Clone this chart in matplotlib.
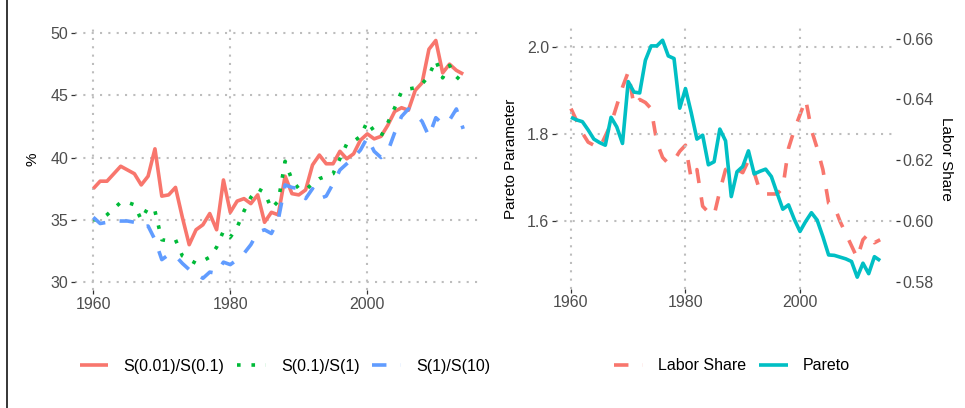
import numpy as np
import matplotlib
matplotlib.use("Agg")
import matplotlib.pyplot as plt
from matplotlib.lines import Line2D

plt.rcParams['font.family'] = ['Liberation Sans', 'DejaVu Sans']

years = list(range(1960, 2015))

# top income share ratios (%)
s001_s01 = [37.5, 38.1, 38.1, 38.7, 39.3, 39.0, 38.7, 37.8, 38.5, 40.7,
            36.9, 37.0, 37.6, 35.2, 33.0, 34.2, 34.6, 35.5, 34.2, 38.2,
            35.6, 36.5, 36.7, 36.3, 37.0, 34.8, 35.6, 35.4, 38.5, 37.1,
            37.0, 37.4, 39.4, 40.2, 39.5, 39.5, 40.5, 39.9, 40.3, 41.4,
            41.9, 41.5, 41.7, 42.6, 43.7, 44.0, 43.8, 45.4, 46.0, 48.7,
            49.4, 46.8, 47.5, 47.0, 46.7]
s01_s1 = [35.0, 35.0, 35.4, 35.9, 36.4, 36.4, 36.2, 35.0, 36.0, 35.7,
          33.4, 33.3, 33.4, 32.1, 31.8, 31.5, 31.7, 32.0, 32.8, 34.1,
          33.6, 34.4, 35.7, 36.8, 37.5, 37.2, 35.9, 36.5, 39.7, 38.2,
          37.5, 37.4, 37.9, 38.3, 38.5, 38.7, 39.9, 41.1, 41.3, 41.7,
          42.9, 42.1, 41.7, 42.8, 44.0, 45.3, 45.5, 45.6, 45.9, 46.6,
          47.8, 46.4, 47.4, 46.5, 46.0]
s1_s10 = [35.2, 34.7, 34.8, 34.9, 34.9, 34.9, 34.8, 34.4, 34.5, 33.4,
          31.8, 32.2, 32.1, 31.5, 31.0, 30.7, 30.3, 30.8, 30.7, 31.6,
          31.4, 31.8, 32.3, 33.0, 34.0, 34.2, 33.9, 35.0, 37.8, 37.6,
          37.5, 36.7, 37.5, 36.7, 36.9, 37.9, 39.0, 39.5, 40.0, 40.6,
          41.6, 40.5, 40.0, 40.5, 42.0, 43.3, 43.9, 43.5, 42.9, 41.7,
          43.2, 42.7, 43.0, 43.9, 42.3]

pareto = [1.839, 1.833, 1.829, 1.810, 1.789, 1.781, 1.775, 1.839, 1.817, 1.779,
          1.921, 1.897, 1.895, 1.970, 2.003, 2.003, 2.016, 1.980, 1.974, 1.860,
          1.905, 1.850, 1.789, 1.798, 1.730, 1.737, 1.812, 1.785, 1.657, 1.714,
          1.726, 1.762, 1.709, 1.715, 1.720, 1.703, 1.665, 1.628, 1.638, 1.605,
          1.577, 1.600, 1.620, 1.603, 1.565, 1.523, 1.522, 1.518, 1.514, 1.508,
          1.472, 1.504, 1.480, 1.519, 1.510]
labor_share = [0.637, 0.633, 0.629, 0.626, 0.625, 0.624, 0.628, 0.632, 0.638, 0.644,
               0.649, 0.638, 0.640, 0.639, 0.637, 0.626, 0.621, 0.619, 0.620, 0.623,
               0.625, 0.614, 0.617, 0.605, 0.603, 0.602, 0.610, 0.617, 0.618, 0.617,
               0.616, 0.620, 0.616, 0.610, 0.609, 0.609, 0.609, 0.611, 0.624, 0.630,
               0.635, 0.640, 0.630, 0.624, 0.617, 0.606, 0.605, 0.600, 0.596, 0.592,
               0.588, 0.594, 0.596, 0.593, 0.594]

red, green, blue, teal = '#F8766D', '#00BA38', '#619CFF', '#00BFC4'
W, H = 965, 408
LW = 2.6
FS = 11.5


def expand(lo, hi, f=0.05):
    d = (hi - lo) * f
    return lo - d, hi + d


def ticks(ax):
    ax.tick_params(length=2.6, width=0.9, color='#333333', labelcolor='#4D4D4D',
                   labelsize=FS, pad=2)


def style(ax):
    for s in ax.spines.values():
        s.set_visible(False)
    ticks(ax)
    ax.grid(True, color='#BDBDBD', linestyle=(0, (1, 3)), linewidth=1.5)
    ax.set_axisbelow(True)
    ax.patch.set_visible(False)


def px_axes(fig, x0, x1, y0, y1):
    return fig.add_axes([x0 / W, 1 - y1 / H, (x1 - x0) / W, (y1 - y0) / H])


fig = plt.figure(figsize=(W / 100, H / 100), dpi=100)

# left panel
ax = px_axes(fig, 74.8, 481.7, 28.6, 290.2)
style(ax)
ax.plot(years, s001_s01, color=red, lw=LW, solid_capstyle='butt', label='S(0.01)/S(0.1)')
ax.plot(years, s01_s1, color=green, lw=LW, linestyle=(0, (1, 3)), dash_capstyle='butt',
        label='S(0.1)/S(1)')
ax.plot(years, s1_s10, color=blue, lw=LW, linestyle=(0, (4, 4)), dash_capstyle='butt',
        label='S(1)/S(10)')
ax.set_xlim(expand(min(years), max(years)))
allv = s001_s01 + s01_s1 + s1_s10
ax.set_ylim(expand(min(allv), max(allv)))
ax.set_xticks([1960, 1980, 2000])
ax.set_yticks([30, 35, 40, 45, 50])
ax.set_ylabel('%', fontsize=11, labelpad=8)
ax.legend(loc='center', bbox_to_anchor=(285 / W, 1 - 366 / H), bbox_transform=fig.transFigure,
          ncol=3, frameon=False, fontsize=FS, handlelength=1.8, handletextpad=0.95,
          columnspacing=0.8)

# right panel
ax_p = px_axes(fig, 555.5, 895.6, 28.4, 289.0)
ax_l = ax_p.twinx()
style(ax_p)
for s in ax_l.spines.values():
    s.set_visible(False)
ticks(ax_l)
ax_p.set_zorder(ax_l.get_zorder() + 1)

l1, = ax_l.plot(years, labor_share, color=red, lw=LW, linestyle=(0, (4, 4)),
                dash_capstyle='butt', label='Labor Share')
l2, = ax_p.plot(years, pareto, color=teal, lw=LW, solid_capstyle='butt', label='Pareto')

# labor share axis is a linear map of the pareto axis: labor = (pareto + 2.6) / 7
to_p = [v * 7 - 2.6 for v in labor_share]
plo, phi = expand(min(pareto + to_p), max(pareto + to_p))
ax_p.set_ylim(plo, phi)
ax_l.set_ylim((plo + 2.6) / 7, (phi + 2.6) / 7)
ax_p.set_xlim(expand(min(years), max(years)))
ax_p.set_xticks([1960, 1980, 2000])
ax_p.set_yticks([1.6, 1.8, 2.0])
ax_l.set_yticks([0.58, 0.60, 0.62, 0.64, 0.66])
ax_p.set_ylabel('Pareto Parameter', fontsize=11, labelpad=6)
ax_l.set_ylabel('Labor Share', fontsize=11, rotation=-90, labelpad=14)
ax_p.legend([l1, l2], ['Labor Share', 'Pareto'], loc='center',
            bbox_to_anchor=(732 / W, 1 - 366 / H), bbox_transform=fig.transFigure,
            ncol=2, frameon=False, fontsize=FS, handlelength=1.8, handletextpad=0.95,
            columnspacing=0.8)

fig.add_artist(Line2D([7.3 / W, 7.3 / W], [0, 1], color='black', lw=1.1))

fig.savefig('out.png', dpi=100)
